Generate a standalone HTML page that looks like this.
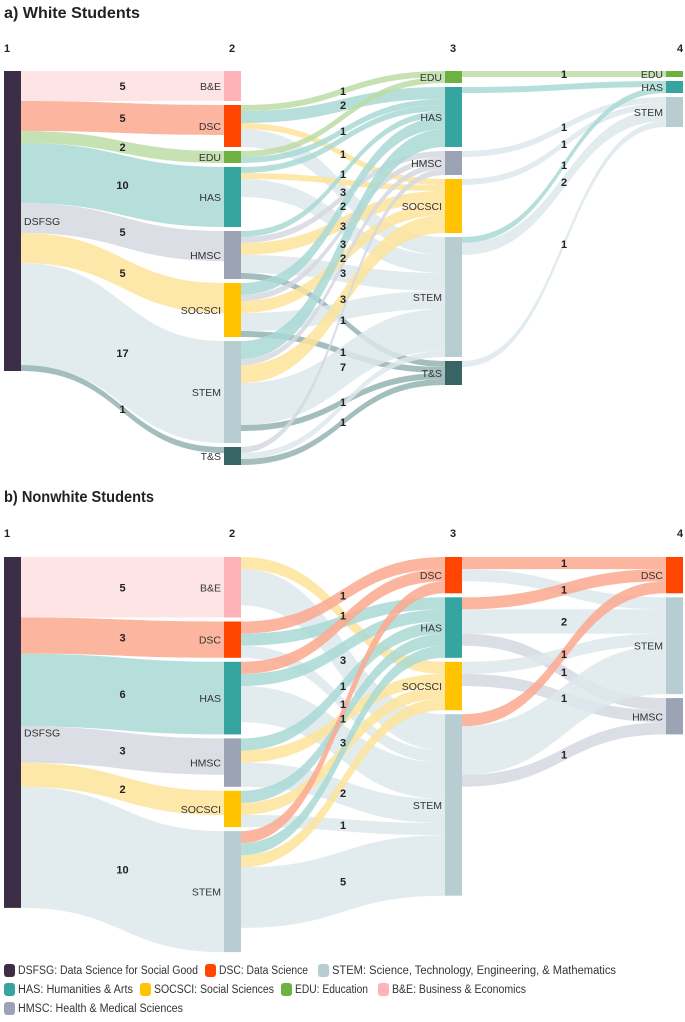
<!DOCTYPE html>
<html><head><meta charset="utf-8"><style>
html,body{margin:0;padding:0;background:#fff;}
svg{display:block;font-family:"Liberation Sans Narrow","Liberation Sans",sans-serif;}
.t{font-weight:bold;font-size:16px;fill:#222;}
.h{font-weight:bold;font-size:11px;fill:#222;}
.nl{font-size:10.5px;fill:#333;}
.vl{font-size:11px;font-weight:bold;fill:#222;}
.lg{font-size:11.5px;fill:#333;}
</style></head><body>
<svg id="chart" width="685" height="1022" viewBox="0 0 685 1022">
<text class="t" x="4" y="18" textLength="136" lengthAdjust="spacingAndGlyphs">a) White Students</text>
<text class="t" x="4" y="502" textLength="150" lengthAdjust="spacingAndGlyphs">b) Nonwhite Students</text>
<g id="pa"></g>
<g id="pb"></g>
<g id="legend"></g>
</svg>
<script>
const colLabels=["1","2","3","4"];
const A_cols=[["DSFSG"],["B&E","DSC","EDU","HAS","HMSC","SOCSCI","STEM","T&S"],["EDU","HAS","HMSC","SOCSCI","STEM","T&S"],["EDU","HAS","STEM"]];
const A_links=[
[0,"DSFSG","B&E",5],[0,"DSFSG","DSC",5],[0,"DSFSG","EDU",2],[0,"DSFSG","HAS",10],[0,"DSFSG","HMSC",5],[0,"DSFSG","SOCSCI",5],[0,"DSFSG","STEM",17],[0,"DSFSG","T&S",1],
[1,"DSC","EDU",1],[1,"DSC","HAS",2],[1,"DSC","SOCSCI",1],[1,"DSC","STEM",3],
[1,"EDU","EDU",1],[1,"EDU","HAS",1],
[1,"HAS","HAS",1],[1,"HAS","SOCSCI",1],[1,"HAS","STEM",3],
[1,"HMSC","HAS",1],[1,"HMSC","HMSC",1],[1,"HMSC","SOCSCI",2],[1,"HMSC","STEM",3],[1,"HMSC","T&S",1],
[1,"SOCSCI","HAS",2],[1,"SOCSCI","HMSC",1],[1,"SOCSCI","SOCSCI",2],[1,"SOCSCI","STEM",3],[1,"SOCSCI","T&S",1],
[1,"STEM","HAS",3],[1,"STEM","HMSC",1],[1,"STEM","SOCSCI",3],[1,"STEM","STEM",7],[1,"STEM","T&S",1],
[1,"T&S","HMSC",1],[1,"T&S","STEM",1],[1,"T&S","T&S",1],
[2,"EDU","EDU",1],[2,"HAS","HAS",1],[2,"HMSC","STEM",1],[2,"SOCSCI","STEM",1],[2,"STEM","HAS",1],[2,"STEM","STEM",2],[2,"T&S","STEM",1]
];
const B_cols=[["DSFSG"],["B&E","DSC","HAS","HMSC","SOCSCI","STEM"],["DSC","HAS","SOCSCI","STEM"],["DSC","STEM","HMSC"]];
const B_links=[
[0,"DSFSG","B&E",5],[0,"DSFSG","DSC",3],[0,"DSFSG","HAS",6],[0,"DSFSG","HMSC",3],[0,"DSFSG","SOCSCI",2],[0,"DSFSG","STEM",10],
[1,"B&E","SOCSCI",1],[1,"B&E","STEM",3],
[1,"DSC","DSC",1],[1,"DSC","HAS",1],[1,"DSC","STEM",1],
[1,"HAS","DSC",1],[1,"HAS","HAS",1],[1,"HAS","STEM",3],
[1,"HMSC","HAS",1],[1,"HMSC","SOCSCI",1],[1,"HMSC","STEM",2],
[1,"SOCSCI","HAS",1],[1,"SOCSCI","SOCSCI",1],[1,"SOCSCI","STEM",1],
[1,"STEM","DSC",1],[1,"STEM","HAS",1],[1,"STEM","SOCSCI",1],[1,"STEM","STEM",5],
[2,"DSC","DSC",1],[2,"DSC","STEM",1],[2,"HAS","DSC",1],[2,"HAS","STEM",2],[2,"HAS","HMSC",1],[2,"SOCSCI","STEM",1],[2,"SOCSCI","HMSC",1],[2,"STEM","DSC",1],[2,"STEM","STEM",4],[2,"STEM","HMSC",1]
];
const nodeColor={"DSFSG":"#3d2e47","DSC":"#ff4500","STEM":"#b8cdd2","HAS":"#36a5a0","SOCSCI":"#ffc300","EDU":"#6fb043","B&E":"#ffb3b8","HMSC":"#9ca3b5","T&S":"#376566"};
const linkColor={"DSC":"#fca98f","STEM":"#dde8eb","HAS":"#a9d9d6","SOCSCI":"#fde49a","EDU":"#bcdca5","B&E":"#ffdfe0","HMSC":"#d5d8e0","T&S":"#94b3b3"};
const legendItems=[["DSFSG","DSFSG: Data Science for Social Good"],["DSC","DSC: Data Science"],["STEM","STEM: Science, Technology, Engineering, & Mathematics"],["HAS","HAS: Humanities & Arts"],["SOCSCI","SOCSCI: Social Sciences"],["EDU","EDU: Education"],["B&E","B&E: Business & Economics"],["HMSC","HMSC: Health & Medical Sciences"]];

const NS="http://www.w3.org/2000/svg";
const colX=[4,224,445,666], nodeW=17;
function mk(tag,parent){const e=document.createElementNS(NS,tag);parent.appendChild(e);return e;}

function drawSankey(g,cols,links,top,k,gap,headerY){
  const nodes={};
  cols.forEach((c,ci)=>c.forEach((n,ni)=>{nodes[ci+":"+n]={ci,ni,name:n,inV:0,outV:0};}));
  links.forEach(l=>{nodes[l[0]+":"+l[1]].outV+=l[3];nodes[(l[0]+1)+":"+l[2]].inV+=l[3];});
  cols.forEach((c,ci)=>{let y=top;c.forEach(n=>{const nd=nodes[ci+":"+n];nd.v=Math.max(nd.inV,nd.outV);nd.y0=y;nd.y1=y+nd.v*k;nd.so=nd.y0;nd.to=nd.y0;y=nd.y1+gap;});});
  const L=links.map(l=>({ci:l[0],s:nodes[l[0]+":"+l[1]],t:nodes[(l[0]+1)+":"+l[2]],v:l[3],tn:l[2]}));
  [...L].sort((a,b)=>a.t.ni-b.t.ni).forEach(l=>{l.sy0=l.s.so;l.s.so+=l.v*k;l.sy1=l.s.so;});
  [...L].sort((a,b)=>a.s.ni-b.s.ni).forEach(l=>{l.ty0=l.t.to;l.t.to+=l.v*k;l.ty1=l.t.to;});
  colLabels.forEach((c,i)=>{const t=mk("text",g);t.setAttribute("class","h");t.setAttribute("x",i==3?677:colX[i]+(i==0?0:5));t.setAttribute("y",headerY);t.textContent=c;
    
    });
  L.forEach(l=>{
    const x0=colX[l.ci]+nodeW,x1=colX[l.ci+1],xm=(x0+x1)/2;
    const p=mk("path",g);
    p.setAttribute("d",`M${x0},${l.sy0}C${xm},${l.sy0} ${xm},${l.ty0} ${x1},${l.ty0}L${x1},${l.ty1}C${xm},${l.ty1} ${xm},${l.sy1} ${x0},${l.sy1}Z`);
    p.setAttribute("fill",linkColor[l.tn]);p.setAttribute("fill-opacity","0.85");
    
    
  });
  const placed={};
  L.forEach(l=>{
    const x0=colX[l.ci]+nodeW,x1=colX[l.ci+1];
    const y=((l.sy0+l.sy1)/2+(l.ty0+l.ty1)/2)/2+4;
    placed[l.ci]=placed[l.ci]||[];
    if(placed[l.ci].some(py=>Math.abs(py-y)<14))return;
    placed[l.ci].push(y);
    const t=mk("text",g);t.setAttribute("class","vl");t.setAttribute("text-anchor","middle");
    t.setAttribute("x",(x0+x1)/2);t.setAttribute("y",y);t.textContent=l.v;
    
    
  });
  Object.values(nodes).forEach(nd=>{
    const r=mk("rect",g);r.setAttribute("x",colX[nd.ci]);r.setAttribute("y",nd.y0);r.setAttribute("width",nodeW);r.setAttribute("height",nd.y1-nd.y0);r.setAttribute("fill",nodeColor[nd.name]);
    
    
    const t=mk("text",g);t.setAttribute("class","nl");
    if(nd.ci==0){t.setAttribute("x",colX[0]+nodeW+3);}else{t.setAttribute("x",colX[nd.ci]-3);t.setAttribute("text-anchor","end");}
    t.setAttribute("y",(nd.y0+nd.y1)/2+4);t.textContent=nd.name;
    
    
  });
}
drawSankey(document.getElementById("pa"),A_cols,A_links,71,6,4,52);
drawSankey(document.getElementById("pb"),B_cols,B_links,557,12.1,4,537);

const lg=document.getElementById("legend");
const lpos=[[4,974,180],[205,974,89],[318,974,284],[4,993,115],[140,993,120],[281,993,73],[378,993,134],[4,1012,165]];
legendItems.forEach((it,i)=>{
  const [x,y,w]=lpos[i];
  const r=mk("rect",lg);r.setAttribute("x",x);r.setAttribute("y",y-10);r.setAttribute("width",11);r.setAttribute("height",13);r.setAttribute("rx",3);r.setAttribute("fill",nodeColor[it[0]]);
  
  
  const t=mk("text",lg);t.setAttribute("class","lg");t.setAttribute("x",x+14);t.setAttribute("y",y);t.textContent=it[1];
  t.setAttribute("textLength",w);t.setAttribute("lengthAdjust","spacingAndGlyphs");
  
  
});
</script>
</body></html>
